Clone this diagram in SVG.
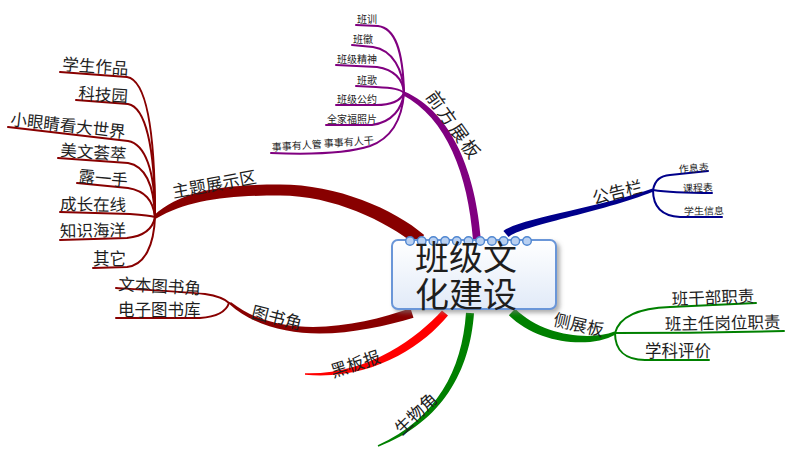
<svg xmlns="http://www.w3.org/2000/svg" width="791" height="454" viewBox="0 0 791 454">
<defs>
<style>
.t{font-family:"Noto Sans CJK SC","Noto Sans CJK JP",sans-serif;fill:#1e1e1e;}
.s{font-size:10px;}
.m{font-size:16.5px;}
.b{font-size:17px;}
.sub{fill:none;stroke-width:2;stroke-linecap:round;stroke-linejoin:round;}
.dr{stroke:#880000;}
.pu{stroke:#800080;}
.nv{stroke:#00008b;}
.gr{stroke:#008000;}
</style>
<linearGradient id="nodeFill" x1="0" y1="0" x2="0" y2="1">
<stop offset="0" stop-color="#ffffff"/>
<stop offset="1" stop-color="#e1eaf8"/>
</linearGradient>
<filter id="shadow" x="-10%" y="-10%" width="125%" height="135%">
<feDropShadow dx="3" dy="3" stdDeviation="2" flood-color="#7a7a7a" flood-opacity="0.6"/>
</filter>
</defs>

<g id="connectors">
<path fill="#800080" d="M481,240 C476,175 453,112 403.8,91.2 L402.2,94.8 C447,118 468,175 473,240 Z"/>
<path fill="#880000" d="M424.2,235 C394,209 337,184.5 280,184.5 C223,184.5 182,190 153.8,215.4 L156.2,218.6 C188,200 227,195.5 280,195.5 C333,195.5 386,221 415.8,245 Z"/>
<path fill="#00008b" d="M503.4,231 C518,219 599,207.5 652.5,188.6 L653.5,191.4 C601,212.5 522,225 508.6,237 Z"/>
<path fill="#008000" d="M515.2,308.8 C542,336 590,341 614.4,331.6 L615.6,334.4 C590,349 538,344 508.8,315.2 Z"/>
<path fill="#880000" d="M410.5,308.3 C359,326.5 281,341.5 230.8,302.1 L229.2,303.9 C279,348.5 361,333.5 413.5,317.7 Z"/>
<path fill="#ff0000" d="M442,310.4 C417,338 368,375 305,373.2 L305,374.8 C372,381 423,346 448,315.6 Z"/>
<path fill="#008000" d="M466,312.7 C462,370 437,418 377.7,445.3 L378.3,446.7 C443,422 470,370 474,313.3 Z"/>

<path class="sub pu" d="M356,25 L378,26 C395,28 403,50 404,93"/>
<path class="sub pu" d="M352,45 L373,47 C393,50 403,70 404,93"/>
<path class="sub pu" d="M336,65 L377,67 C395,70 403,80 404,93"/>
<path class="sub pu" d="M356,86 L376,87 C393,88 400,89 404,93"/>
<path class="sub pu" d="M336,105 L376,105 C393,105 401,100 404,93"/>
<path class="sub pu" d="M326,125 L372,125 C393,122 402,108 404,93"/>
<path class="sub pu" d="M271,153 C320,155 352,152 370,146 C392,138 402,120 404,93"/>

<path class="sub dr" d="M60,72 L127,77 C146,80 155,130 155,217"/>
<path class="sub dr" d="M76,100 L128,104 C145,107 155,145 155,217"/>
<path class="sub dr" d="M8,127 L128,141 C145,144 155,170 155,217"/>
<path class="sub dr" d="M58,158 L128,163 C145,166 154,185 155,217"/>
<path class="sub dr" d="M77,183 L128,188 C145,191 153,200 155,217"/>
<path class="sub dr" d="M60,212 L130,214 C145,215 152,216 155,217"/>
<path class="sub dr" d="M60,240 L127,238 C145,236 153,228 155,217"/>
<path class="sub dr" d="M93,268 L127,267 C145,265 154,245 155,217"/>

<path class="sub nv" d="M653,190 C655,180 660,176 670,175 L708,171"/>
<path class="sub nv" d="M653,190 C665,192 680,193 712,193"/>
<path class="sub nv" d="M653,190 C653,205 660,216 680,217 L722,217"/>

<path class="sub gr" d="M615,333 C620,315 640,308 670,307 L756,303"/>
<path class="sub gr" d="M615,333 C640,333 700,333 784,331"/>
<path class="sub gr" d="M615,333 C615,350 625,360 645,360 L709,360"/>

<path class="sub dr" d="M116,288 C150,290 185,292 205,294 C218,296 225,299 229,303"/>
<path class="sub dr" d="M116,318 L200,318 C215,317 226,312 229,303"/>
</g>

<g id="center">
<rect x="392" y="240" width="164" height="69" rx="6" ry="6" fill="url(#nodeFill)" stroke="#6a96d8" stroke-width="2" filter="url(#shadow)"/>
<g fill="#b9d0f1" stroke="#4f86d0" stroke-width="1.4">
<circle cx="410" cy="241" r="4.3"/>
<circle cx="421.7" cy="241" r="4.3"/>
<circle cx="433.4" cy="241" r="4.3"/>
<circle cx="445.1" cy="241" r="4.3"/>
<circle cx="456.8" cy="241" r="4.3"/>
<circle cx="468.5" cy="241" r="4.3"/>
<circle cx="480.2" cy="241" r="4.3"/>
<circle cx="491.9" cy="241" r="4.3"/>
<circle cx="503.6" cy="241" r="4.3"/>
<circle cx="515.3" cy="241" r="4.3"/>
<circle cx="527" cy="241" r="4.3"/>
</g>
<text class="t" font-size="34" fill="#000"><tspan x="415" y="270">班级文</tspan><tspan x="415" y="306.5">化建设</tspan></text>
</g>

<g id="branch-qianfang">
<text class="t" font-size="18" letter-spacing="2" text-anchor="middle" dominant-baseline="central" transform="translate(455,124.5) rotate(54.5)">前方展板</text>
<text class="t s" x="357" y="23">班训</text>
<text class="t s" x="353" y="43">班徽</text>
<text class="t s" x="337" y="63">班级精神</text>
<text class="t s" x="357" y="84">班歌</text>
<text class="t s" x="337" y="103">班级公约</text>
<text class="t s" x="327" y="123">全家福照片</text>
<text class="t s" x="272" y="151" transform="rotate(-4 272 151)">事事有人管 事事有人干</text>
</g>

<g id="branch-zhuti">
<text class="t b" text-anchor="middle" dominant-baseline="central" transform="translate(214,183) rotate(-10.5)">主题展示区</text>
<text class="t m" x="62" y="70" transform="rotate(4 62 70)">学生作品</text>
<text class="t m" x="78" y="99" transform="rotate(4 78 99)">科技园</text>
<text class="t m" x="10" y="125" transform="rotate(6.5 10 125)">小眼睛看大世界</text>
<text class="t m" x="60" y="156" transform="rotate(4 60 156)">美文荟萃</text>
<text class="t m" x="78" y="182" transform="rotate(5 78 182)">露一手</text>
<text class="t m" x="60" y="210" transform="rotate(1 60 210)">成长在线</text>
<text class="t m" x="60" y="237" transform="rotate(-1 60 237)">知识海洋</text>
<text class="t m" x="93" y="265">其它</text>
</g>

<g id="branch-gonggao">
<text class="t b" text-anchor="middle" dominant-baseline="central" transform="translate(617,191) rotate(-14)">公告栏</text>
<text class="t s" x="679" y="173" transform="rotate(-4 679 173)">作息表</text>
<text class="t s" x="683" y="192" transform="rotate(-2 683 192)">课程表</text>
<text class="t s" x="684" y="215" transform="rotate(-1 684 215)">学生信息</text>
</g>

<g id="branch-cezhan">
<text class="t b" text-anchor="middle" dominant-baseline="central" transform="translate(579,323.5) rotate(12.7)">侧展板</text>
<text class="t m" x="672" y="305" transform="rotate(-2 672 305)">班干部职责</text>
<text class="t m" x="665" y="330" transform="rotate(-1 665 330)">班主任岗位职责</text>
<text class="t m" x="645" y="357">学科评价</text>
</g>

<g id="branch-tushu">
<text class="t b" text-anchor="middle" dominant-baseline="central" transform="translate(277,316.5) rotate(14)">图书角</text>
<text class="t m" x="118" y="290" transform="rotate(3 118 290)">文本图书角</text>
<text class="t m" x="118" y="316">电子图书库</text>
</g>

<g id="branch-heiban">
<text class="t b" text-anchor="middle" dominant-baseline="central" transform="translate(355,362.8) rotate(-18)">黑板报</text>
</g>

<g id="branch-shengwu">
<text class="t b" text-anchor="middle" dominant-baseline="central" transform="translate(415,412.8) rotate(-44)">生物角</text>
</g>
</svg>
